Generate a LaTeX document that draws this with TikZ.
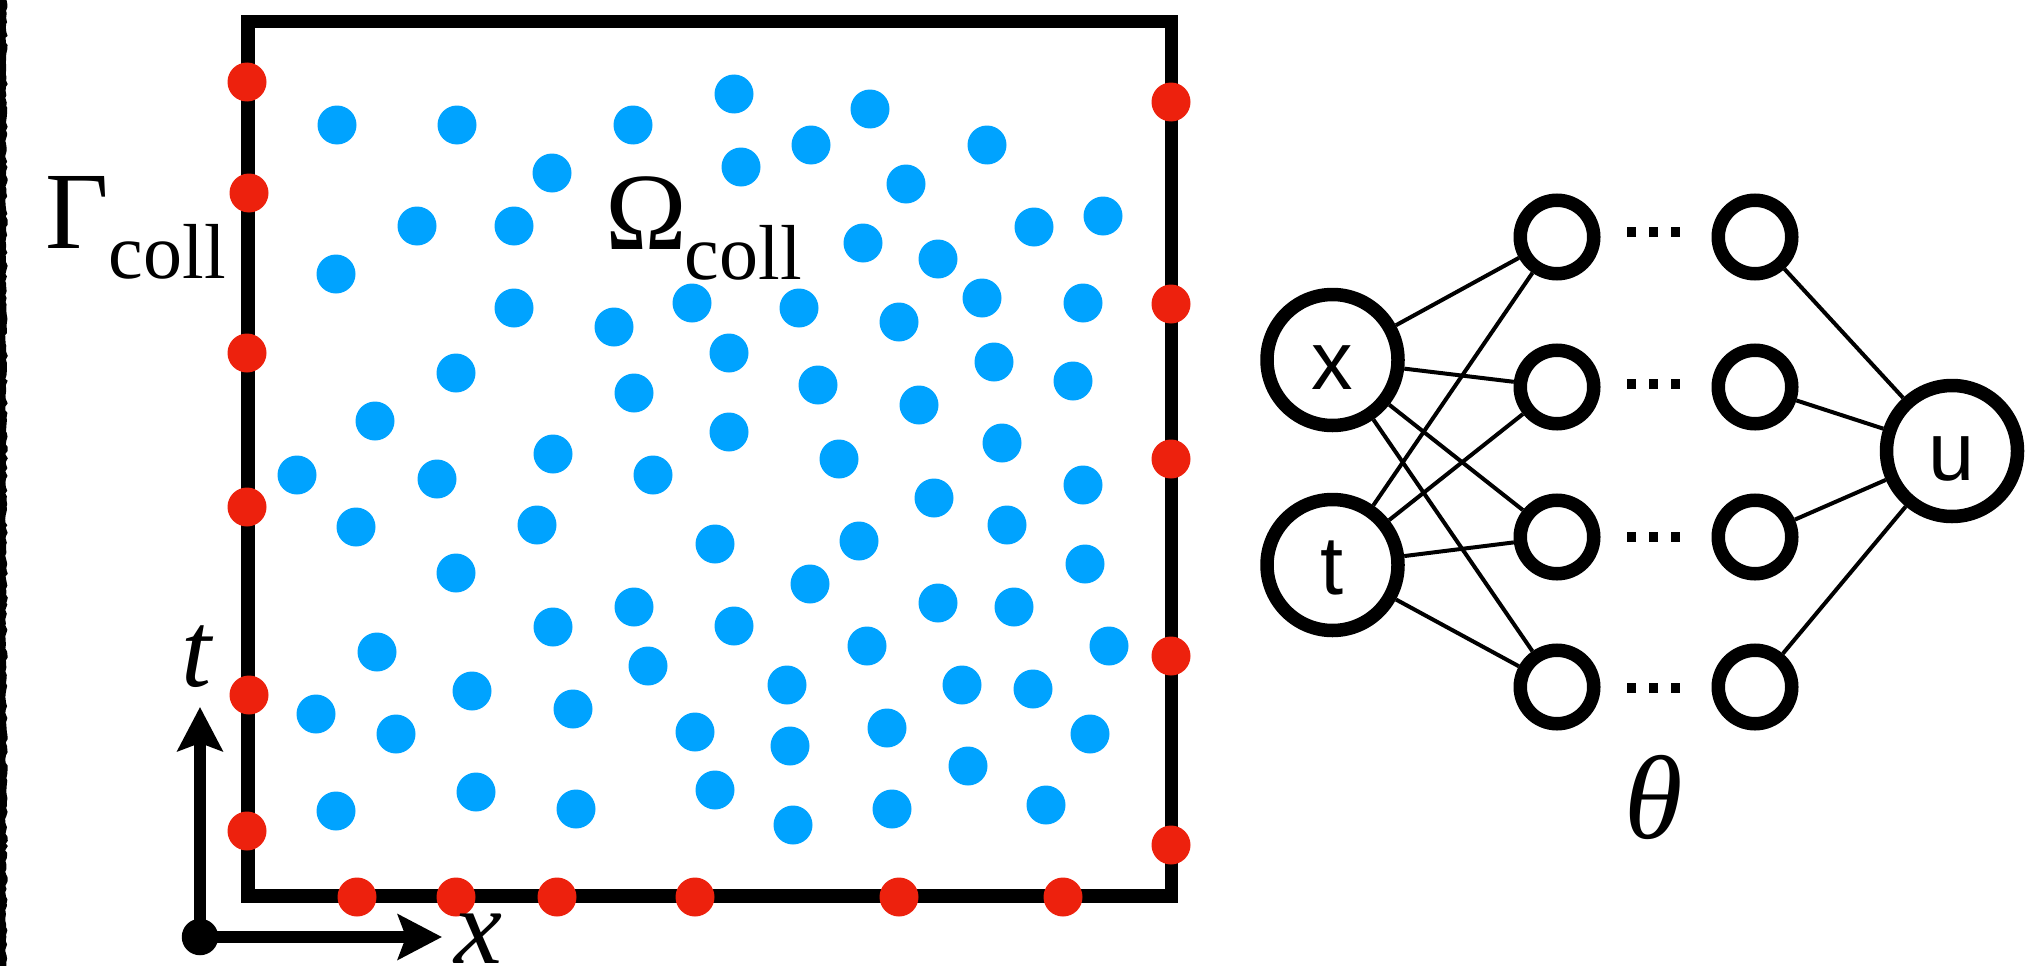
\RequirePackage{fix-cm}
\documentclass[tikz,border=0pt]{standalone}
\usepackage{fontspec}
\newfontfamily\netfont{Liberation Sans}
\newfontfamily\lblfont{Liberation Serif}
\usetikzlibrary{arrows.meta,decorations.pathmorphing}
\definecolor{dotblue}{RGB}{0,163,255}
\definecolor{dotred}{RGB}{237,33,13}
\tikzset{
  bdot/.style={circle, fill=dotblue, minimum size=39pt, inner sep=0pt, draw=none},
  rdot/.style={circle, fill=dotred, minimum size=39pt, inner sep=0pt, draw=none},
  odot/.style={circle, fill=black, minimum size=36.5pt, inner sep=0pt, draw=none},
  boxline/.style={line width=13.5pt, line join=miter},
  axisline/.style={line width=11.5pt, -{Stealth[length=44pt, width=45pt, inset=8pt]}},
  axislbl/.style={inner sep=0pt, font=\lblfont\itshape\fontsize{108}{110}\selectfont},
  biglbl/.style={inner sep=0pt, font=\lblfont\itshape\fontsize{119}{120}\selectfont},
  setlbl/.style={inner sep=0pt, font=\lblfont\fontsize{110}{110}\selectfont},
  iolayer/.style={circle, draw=black, line width=13.5pt, minimum size=131pt, inner sep=0pt,
    font=\netfont\fontsize{83}{90}\selectfont, text height=59pt, text depth=0pt},
  hidlayer/.style={circle, draw=black, line width=13.5pt, minimum size=73.5pt, inner sep=0pt},
  edge/.style={line width=4pt},
  ellipsisdot/.style={fill=black}
}
\newcommand{\collsub}{\raisebox{-30pt}{\fontsize{78}{78}\selectfont coll}}
\begin{document}
\begin{tikzpicture}[x=1pt, y=-1pt]
\useasboundingbox (0,0) rectangle (2040,966);
\fill[white] (0,0) rectangle (2040,966);

% rough left border
\pgfmathsetseed{7}
\fill[black] (0,0) -- (0,966) -- (6.5,966)
  decorate[decoration={random steps, segment length=3.5pt, amplitude=1.3pt}] { -- (6.5,0) } -- cycle;

% domain box
\draw[boxline] (248,21.5) rectangle (1171.5,896);

% blue collocation points
\foreach \px/\py [count=\i] in {
 337/125, 457/125, 633/125, 552/173, 417/226, 514/226, 336/274, 514/308, 614/327, 692/303, 456/373, 634/393, 375/421,
 734/94, 870/109, 811/145, 987/145, 741/167, 906/184, 1034/227, 1103/216, 863/243, 938/259, 799/308, 899/322, 982/298,
 1083/303, 729/353, 818/385, 919/405, 994/362, 1073/381, 729/432, 1002/443,
 297/475, 437/479, 553/454, 653/475, 356/527, 537/525, 456/573, 634/607, 553/627, 377/652, 648/666, 472/691, 316/714,
 396/734, 573/709, 695/732, 476/792, 336/811, 576/809,
 839/459, 1083/485, 934/498, 715/544, 859/541, 1007/525, 1085/564, 810/584, 938/603, 1014/607, 734/626, 867/646,
 1109/646, 787/685, 962/685, 1033/689, 790/746, 887/728, 1090/734, 715/790, 968/766, 892/809, 793/825, 1046/805}
  \node[bdot] (b\i) at (\px,\py) {};

% red boundary points
\foreach \px/\py [count=\i] in {
 247/82, 249/193, 247/353, 247/507, 249/695, 247/831,
 1171/102, 1171/304, 1171/459, 1171/656, 1171/845,
 357/897, 456/897, 557/897, 695/897, 899/897, 1063/897}
  \node[rdot] (r\i) at (\px,\py) {};

% axes
\coordinate (O) at (200,937);
\coordinate (tend) at (200,707);
\coordinate (xend) at (442,937);
\draw[axisline] (O) -- (tend);
\draw[axisline] (O) -- (xend);
\node[odot] (origin) at (O) {};
\node[axislbl, anchor=base] (tlbl) at (197,686) {t};
\node[axislbl, anchor=base] (xlbl) at (478,963) {x};

% set labels
\node[setlbl, anchor=base west] (gamma) at (45,248) {Γ\collsub};
\node[setlbl, anchor=base west] (omega) at (605,249) {Ω\kern-2pt\collsub};

% network
\node[iolayer] (nx) at (1332.5,360) {x};
\node[iolayer] (nt) at (1332.5,565) {t};
\node[iolayer] (nu) at (1952,451) {u};
\foreach \j/\hy in {1/237, 2/387, 3/537, 4/687} {
  \node[hidlayer] (ha\j) at (1557,\hy) {};
  \node[hidlayer] (hb\j) at (1755,\hy) {};
}
\foreach \j in {1,...,4} {
  \draw[edge] (nx) -- (ha\j);
  \draw[edge] (nt) -- (ha\j);
  \draw[edge] (hb\j) -- (nu);
}
\foreach \dy in {232, 384, 537, 688} {
  \foreach \dx in {1631.5, 1653.5, 1675.5}
    \fill[ellipsisdot] (\dx-4.75,\dy-4.75) rectangle (\dx+4.75,\dy+4.75);
}
\node[biglbl, anchor=base] (theta) at (1654,838) {θ};
\end{tikzpicture}
\end{document}
